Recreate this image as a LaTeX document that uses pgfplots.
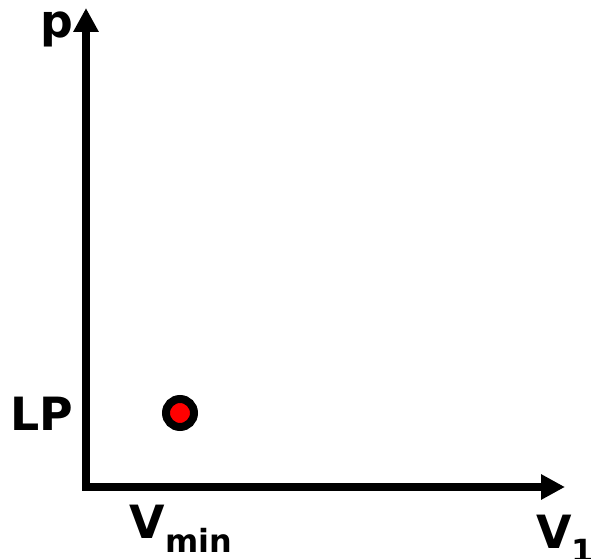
\documentclass[border=0pt]{standalone}
\usepackage{fontspec}
\setmainfont{DejaVu Sans}
\usepackage{pgfplots}
\pgfplotsset{compat=1.18}
\usetikzlibrary{arrows.meta}
\begin{document}
\begin{tikzpicture}
\useasboundingbox (0,0) rectangle (591bp,559bp);
\begin{axis}[
  at={(86bp,72bp)}, anchor=south west,
  scale only axis, width=479bp, height=479bp,
  xmin=0, xmax=479, ymin=0, ymax=479,
  enlargelimits=false, clip=false,
  axis lines=left,
  axis line style={line width=8bp, line cap=rect, -{Triangle[length=24bp,width=24bp]}},
  xtick=\empty, ytick=\empty,
  font=\fontsize{46}{55}\selectfont\bfseries,
]
\addplot[only marks, mark=*, mark size=14bp,
  mark options={fill=red, draw=black, line width=8bp}] coordinates {(94,74)};
\node[anchor=base east, inner sep=0pt] at (axis cs:-12,449) {p};
\node[anchor=base east, inner sep=0pt] at (axis cs:-13,56) {LP};
\node[anchor=base, inner sep=0pt] at (axis cs:95,-51) {V\raisebox{-14bp}{\fontsize{32}{38}\selectfont min}};
\node[anchor=base west, inner sep=0pt] at (axis cs:450,-61) {V\raisebox{-14bp}{\fontsize{32}{38}\selectfont 1}};
\end{axis}
\end{tikzpicture}
\end{document}
